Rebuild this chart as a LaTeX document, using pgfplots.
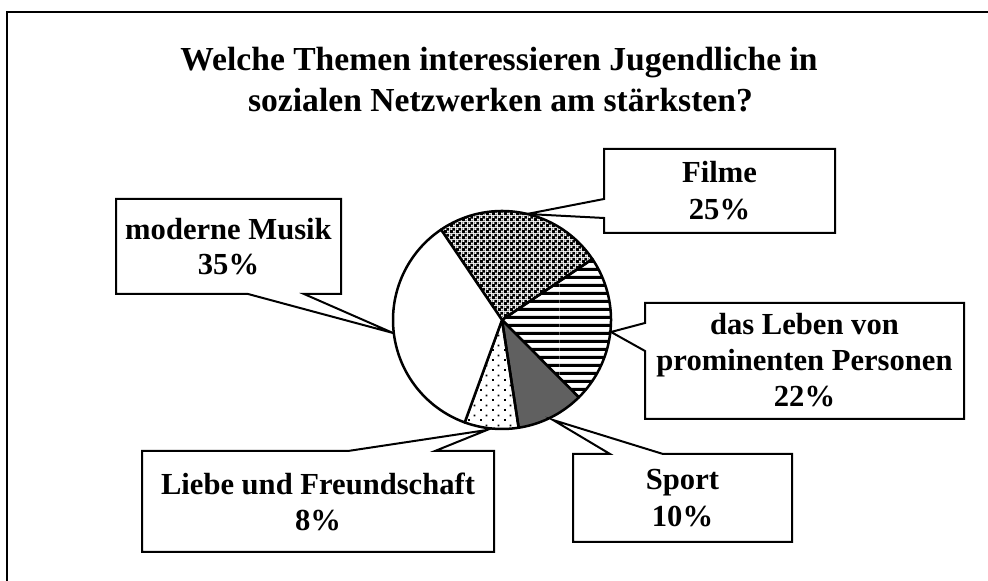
\documentclass[border=0pt]{standalone}
\usepackage{pgfplots}
\pgfplotsset{compat=1.18}
\usepackage{pgfplotstable}
\usepackage{fontspec}
\setmainfont{Liberation Serif}
\usetikzlibrary{patterns}

\pgfdeclarepatternformonly{finechecker}{\pgfpointorigin}{\pgfqpoint{3pt}{3pt}}{\pgfqpoint{3pt}{3pt}}{%
 \pgfseteorule
 \pgfpathrectangle{\pgfpointorigin}{\pgfqpoint{3pt}{3pt}}%
 \pgfpathrectangle{\pgfqpoint{1.65pt}{0.15pt}}{\pgfqpoint{1.2pt}{1.2pt}}%
 \pgfpathrectangle{\pgfqpoint{0.15pt}{1.65pt}}{\pgfqpoint{1.2pt}{1.2pt}}%
 \pgfusepath{fill}}
\pgfdeclarepatternformonly{thickhlines}{\pgfpointorigin}{\pgfqpoint{40pt}{3.8pt}}{\pgfqpoint{40pt}{3.8pt}}{%
 \pgfpathrectangle{\pgfpointorigin}{\pgfqpoint{40pt}{1.7pt}}\pgfusepath{fill}}
\pgfdeclarepatternformonly{sparsedots}{\pgfpointorigin}{\pgfqpoint{6pt}{5pt}}{\pgfqpoint{6pt}{5pt}}{%
 \pgfpathrectangle{\pgfpointorigin}{\pgfqpoint{1pt}{1pt}}%
 \pgfpathrectangle{\pgfqpoint{3pt}{2.5pt}}{\pgfqpoint{1pt}{1pt}}%
 \pgfusepath{fill}}

\definecolor{sportgray}{RGB}{96,96,96}

\pgfplotstableread{
thema anteil
Filme 25
Leben 22
Sport 10
Liebe 8
Musik 35
}\piedata
\pgfplotstablegetelem{0}{anteil}\of\piedata\edef\vA{\pgfplotsretval}
\pgfplotstablegetelem{1}{anteil}\of\piedata\edef\vB{\pgfplotsretval}
\pgfplotstablegetelem{2}{anteil}\of\piedata\edef\vC{\pgfplotsretval}
\pgfplotstablegetelem{3}{anteil}\of\piedata\edef\vD{\pgfplotsretval}
\pgfplotstablegetelem{4}{anteil}\of\piedata\edef\vE{\pgfplotsretval}
\pgfmathsetmacro{\sA}{124}
\pgfmathsetmacro{\sB}{\sA-3.6*\vA}
\pgfmathsetmacro{\sC}{\sB-3.6*\vB}
\pgfmathsetmacro{\sD}{\sC-3.6*\vC}
\pgfmathsetmacro{\sE}{\sD-3.6*\vD}
\pgfmathsetmacro{\sF}{\sE-3.6*\vE}

\begin{document}
\begin{tikzpicture}
\begin{axis}[
  at={(0,0)}, anchor=south west,
  scale only axis, width=494pt, height=290.5pt,
  xmin=0, xmax=988, ymin=0, ymax=581,
  hide axis, clip=false,
]
% frame (left and top edges visible)
\draw[line width=1.25pt, line join=miter] (7,0) -- (7,569) -- (988,569);

% title
\node[anchor=base, font=\bfseries\fontsize{16.8}{20.5}\selectfont] at (499,510.3) {Welche Themen interessieren Jugendliche in};
\node[anchor=base, font=\bfseries\fontsize{16.8}{20.5}\selectfont] at (500.5,469.3) {sozialen Netzwerken am stärksten?};

% pie wedges
\addplot[draw=black, line width=1.25pt, line join=round, pattern=finechecker, pattern color=black, domain=\sB:\sA, samples=80, variable=\t]
  ({502+109*cos(\t)},{261+109*sin(\t)}) -- (502,261) -- cycle;
\addplot[draw=black, line width=1.25pt, line join=round, pattern=thickhlines, pattern color=black, domain=\sC:\sB, samples=80, variable=\t]
  ({502+109*cos(\t)},{261+109*sin(\t)}) -- (502,261) -- cycle;
\addplot[draw=black, line width=1.25pt, line join=round, fill=sportgray, domain=\sD:\sC, samples=40, variable=\t]
  ({502+109*cos(\t)},{261+109*sin(\t)}) -- (502,261) -- cycle;
\addplot[draw=black, line width=1.25pt, line join=round, pattern=sparsedots, pattern color=black, domain=\sE:\sD, samples=40, variable=\t]
  ({502+109*cos(\t)},{261+109*sin(\t)}) -- (502,261) -- cycle;
\addplot[draw=black, line width=1.25pt, line join=round, fill=white, domain=\sF:\sE, samples=100, variable=\t]
  ({502+109*cos(\t)},{261+109*sin(\t)}) -- (502,261) -- cycle;

% callouts
\draw[line width=1pt, fill=white] (604,432) -- (835,432) -- (835,348) -- (604,348) -- (604,363) -- (527,367) -- (604,382) -- cycle;
\draw[line width=1pt, fill=white] (645,278) -- (964,278) -- (964,162) -- (645,162) -- (645,230) -- (611,249) -- (645,258) -- cycle;
\draw[line width=1pt, fill=white] (116,382) -- (341,382) -- (341,287) -- (304,287) -- (393,248) -- (248,287) -- (116,287) -- cycle;
\draw[line width=1pt, fill=white] (142,130) -- (348,130) -- (487,151) -- (435,130) -- (494,130) -- (494,29) -- (142,29) -- cycle;
\draw[line width=1pt, fill=white] (573,127) -- (610,127) -- (553,161) -- (663,127) -- (792,127) -- (792,39) -- (573,39) -- cycle;

% callout texts
\tikzset{ct/.style={anchor=base, font=\bfseries\fontsize{15.3}{18}\selectfont}}
\node[ct] at (719.5,398) {Filme};
\node[ct] at (719.5,361) {25\%};
\node[ct] at (804.5,246) {das Leben von};
\node[ct] at (804.5,210.3) {prominenten Personen};
\node[ct] at (804.5,174.3) {22\%};
\node[ct] at (228.5,341.7) {moderne Musik};
\node[ct] at (228.5,306) {35\%};
\node[ct] at (318,86) {Liebe und Freundschaft};
\node[ct] at (318,50.3) {8\%};
\node[ct] at (682.5,91) {Sport};
\node[ct] at (682.5,54.3) {10\%};
\end{axis}
\pgfresetboundingbox
\useasboundingbox (0,0) rectangle (494pt,290.5pt);
\end{tikzpicture}
\end{document}
